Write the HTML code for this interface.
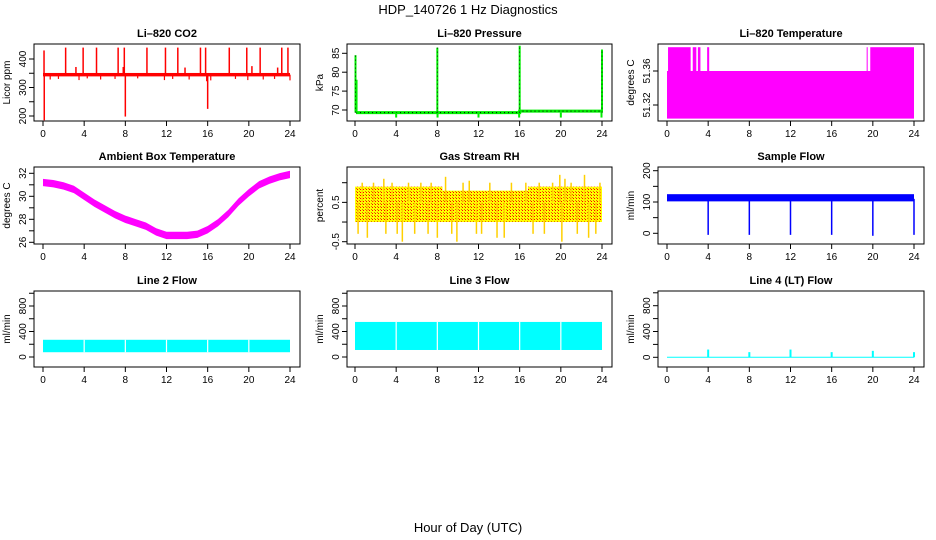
<!DOCTYPE html>
<html><head><meta charset="utf-8"><style>
html,body{margin:0;padding:0;background:#fff;}
svg{display:block;font-family:"Liberation Sans",Arial,sans-serif;}
</style></head><body>
<svg id="c" width="936" height="540" viewBox="0 0 936 540" xmlns="http://www.w3.org/2000/svg">
<defs>
<pattern id="rhpat" width="3" height="3" patternUnits="userSpaceOnUse">
<rect width="3" height="3" fill="#ffff00"/><rect x="0" y="0" width="1" height="1" fill="#ff0000"/><rect x="2" y="2" width="1" height="1" fill="#e07000"/>
</pattern>
</defs>
<text x="468" y="14" text-anchor="middle" font-size="13">HDP_140726  1 Hz Diagnostics</text>
<text x="468" y="532" text-anchor="middle" font-size="13">Hour of Day (UTC)</text>
</svg>
<script>
// ---- data ----
const xTicks=[0,4,8,12,16,20,24];
const co2Base=[339,351];
const co2SpikeHours=[0.1,0.12,2.2,3.2,3.9,5.2,7.3,7.8,7.9,8.0,10.1,11.9,13.1,13.8,15.3,15.8,16.0,18.1,19.8,20.3,21.1,22.8,23.2,23.8];
const co2SpikeVals=[430,185,440,372,440,440,440,372,440,198,440,440,440,370,440,440,225,440,440,375,440,370,440,440];
const co2DipHours=[0.7,1.5,3.5,4.3,5.6,7.0,9.2,11.8,12.6,14.2,15.9,16.3,18.7,19.9,21.4,22.5,24.0];
const co2DipVals=[328,330,326,332,328,330,332,326,330,328,322,325,330,326,328,330,325];
const presBaseHours=[0.1,16,16,24];
const presBaseVals=[69.3,69.3,69.7,69.7];
const presSpikeHours=[0.05,0.15,8.0,16.0,24.0,4,12,20,8.02,15.95,23.95];
const presSpikeVals=[84.5,78,86.5,87,86,68,68,68,68,68,68];
const tempLow=[51.304,51.36];
const tempHighStarts=[0.1,2.5,3.0,3.9,19.4,19.75];
const tempHighEnds=[2.3,2.85,3.25,4.1,19.5,24];
const tempHigh=51.388;
const ambHours=[0,1,2,3,4,5,6,7,8,9,10,11,12,13,14,15,16,17,18,19,20,21,22,23,24];
const ambVals=[31.2,31.1,30.9,30.6,30.0,29.4,28.9,28.4,28.0,27.7,27.4,26.9,26.6,26.6,26.6,26.7,27.1,27.7,28.5,29.5,30.3,31.0,31.4,31.7,31.9];
const ambHalf=0.32;
const rhTopHours=[0,8.5,8.5,16.8,16.8,24];
const rhTopVals=[0.9,0.9,0.8,0.8,0.9,0.9];
const rhLow=0.0;
const rhSpikeHours=[0.3,0.7,1.2,1.8,2.8,3.0,3.6,4.1,4.6,5.2,5.8,6.4,7.1,7.4,8.0,8.8,9.4,9.9,10.5,11.1,11.8,12.3,13.1,13.8,14.5,15.2,16.6,17.3,17.9,18.4,19.2,19.9,20.1,20.4,21.0,21.6,22.3,22.7,23.4,23.8];
const rhSpikeVals=[-0.3,1.0,-0.4,1.0,1.1,-0.3,1.0,-0.3,-0.5,1.0,-0.3,1.0,-0.3,1.0,-0.4,1.15,-0.3,-0.5,1.0,1.05,-0.3,-0.3,1.0,-0.4,-0.4,1.0,1.0,-0.3,1.0,-0.3,1.0,1.2,-0.5,1.1,1.0,-0.3,1.2,-0.4,-0.3,1.0];
const sampBand=[102,125];
const sampDipHours=[4,8,12,16,20,24];
const sampDipVals=[-5,-5,-5,-5,-8,-5];
const l2Band=[75,270];
const l3Band=[110,550];
const gapHours=[4,8,12,16,20];
const l4SpikeHours=[4,8,12,16,20,24];
const l4SpikeVals=[120,80,120,80,100,80];

// ---- drawing ----
const svg=document.getElementById('c');
const NS='http://www.w3.org/2000/svg';
function mk(tag,attrs,parent){const e=document.createElementNS(NS,tag);for(const k in attrs)e.setAttribute(k,attrs[k]);(parent||svg).appendChild(e);return e;}
const cols=[{bx:34,bw:266,x0:43,x1:290},{bx:347,bw:265,x0:355,x1:602},{bx:658,bw:266,x0:667,x1:914}];
const rows=[{by:44,bh:77},{by:167,bh:77},{by:291,bh:76}];
function lin(v0,p0,v1,p1){return v=>p0+(v-v0)*(p1-p0)/(v1-v0);}
function panel(name,c,r,title,ylab,yv0,yp0,yv1,yp1,ticks,labels){
  const C=cols[c],R=rows[r];
  const g=mk('g',{});
  
  
  const X=lin(0,C.x0,24,C.x1), Y=lin(yv0,yp0,yv1,yp1);
  const t=mk('text',{x:C.bx+C.bw/2,y:R.by-7,'text-anchor':'middle','font-size':11,'font-weight':'bold'},g);t.textContent=title;
  
  
  const yl=mk('text',{x:0,y:0,'text-anchor':'middle','font-size':10,transform:`translate(${C.bx-24},${R.by+R.bh/2}) rotate(-90)`},g);yl.textContent=ylab;
  
  
  const plot=mk('g',{},g);
  const yb=R.by+R.bh;
  mk('line',{x1:X(0),x2:X(24),y1:yb,y2:yb,stroke:'#000'},g);
  xTicks.forEach(h=>{mk('line',{x1:X(h),x2:X(h),y1:yb,y2:yb+5,stroke:'#000'},g);
    const tl=mk('text',{x:X(h),y:yb+16,'text-anchor':'middle','font-size':10},g);tl.textContent=h;
    
    });
  mk('line',{x1:C.bx,x2:C.bx,y1:Y(ticks[0]),y2:Y(ticks[ticks.length-1]),stroke:'#000'},g);
  ticks.forEach(v=>{mk('line',{x1:C.bx-5,x2:C.bx,y1:Y(v),y2:Y(v),stroke:'#000'},g);});
  labels.forEach(v=>{const tl=mk('text',{x:0,y:0,'text-anchor':'middle','font-size':10,transform:`translate(${C.bx-8},${Y(v)}) rotate(-90)`},g);tl.textContent=String(v);
    
    });
  mk('rect',{x:C.bx,y:R.by,width:C.bw,height:R.bh,fill:'none',stroke:'#000'},g);
  return {g:plot,X,Y};
}
function vline(p,h,a,b,col,w,dash){const e=mk('line',{x1:p.X(h),x2:p.X(h),y1:p.Y(a),y2:p.Y(b),stroke:col,'stroke-width':w},p.g);if(dash)e.setAttribute('stroke-dasharray',dash);return e;}
function band(p,h0,h1,a,b,fill){return mk('rect',{x:p.X(h0),y:p.Y(b),width:p.X(h1)-p.X(h0),height:p.Y(a)-p.Y(b),fill:fill},p.g);}

// CO2
let p=panel('co2',0,0,'Li\u2013820 CO2','Licor ppm',400,59,200,116,[200,250,300,350,400],[200,300,400]);
band(p,0,24,co2Base[0],co2Base[1],'#ff0000');
co2SpikeHours.forEach((h,i)=>vline(p,h,345,co2SpikeVals[i],'#ff0000',1.5));
co2DipHours.forEach((h,i)=>vline(p,h,345,co2DipVals[i],'#ff0000',1.2));
// Pressure
p=panel('pressure',1,0,'Li\u2013820 Pressure','kPa',85,53.3,70,110,[70,75,80,85],[70,75,80,85]);
mk('polyline',{points:presBaseHours.map((h,i)=>p.X(h)+','+p.Y(presBaseVals[i])).join(' '),fill:'none',stroke:'#00ee00','stroke-width':3},p.g);
mk('polyline',{points:presBaseHours.map((h,i)=>p.X(h)+','+p.Y(presBaseVals[i])).join(' '),fill:'none',stroke:'#000','stroke-width':1,'stroke-dasharray':'1,3'},p.g);
presSpikeHours.forEach((h,i)=>{vline(p,h,presBaseVals[0],presSpikeVals[i],'#00ee00',2);});
[0.05,8.0,16.0,24.0].forEach(h=>vline(p,h,69.3,presSpikeVals[presSpikeHours.indexOf(h)],'#000',0.8,'1,3'));
// Li temp
p=panel('li-temp',2,0,'Li\u2013820 Temperature','degrees C',51.36,71,51.32,105,[51.32,51.36],[51.32,51.36]);
band(p,0,24,tempLow[0],tempLow[1],'#ff00ff');
tempHighStarts.forEach((s,i)=>band(p,s,tempHighEnds[i],tempLow[1]-0.001,tempHigh,'#ff00ff'));
// Ambient
p=panel('ambient',0,1,'Ambient Box Temperature','degrees C',32,173.3,26,242.3,[26,27,28,29,30,31,32],[26,28,30,32]);
{const up=ambHours.map((h,i)=>p.X(h)+','+p.Y(ambVals[i]+ambHalf)),dn=ambHours.map((h,i)=>p.X(h)+','+p.Y(ambVals[i]-ambHalf)).reverse();
mk('polygon',{points:up.concat(dn).join(' '),fill:'#ff00ff'},p.g);}
// RH
p=panel('gas-rh',1,1,'Gas Stream RH','percent',1.0,182.7,-0.5,241.7,[-0.5,0,0.5,1.0],[-0.5,0.5]);
{const up=rhTopHours.map((h,i)=>p.X(h)+','+p.Y(rhTopVals[i]));
mk('polygon',{points:up.concat([p.X(24)+','+p.Y(rhLow),p.X(0)+','+p.Y(rhLow)]).join(' '),fill:'url(#rhpat)'},p.g);}
rhSpikeHours.forEach((h,i)=>vline(p,h,0.5,rhSpikeVals[i],'#ffd000',1.5));
// Sample flow
p=panel('sample-flow',2,1,'Sample Flow','ml/min',200,170.7,0,233.3,[0,50,100,150,200],[0,100,200]);
band(p,0,24,sampBand[0],sampBand[1],'#0000ff');
sampDipHours.forEach((h,i)=>vline(p,h,110,sampDipVals[i],'#0000ff',1.5));
// Line 2
p=panel('line2-flow',0,2,'Line 2 Flow','ml/min',800,306,0,357,[0,200,400,600,800,1000],[0,400,800]);
band(p,0,24,l2Band[0],l2Band[1],'#00ffff');
gapHours.forEach(h=>vline(p,h,l2Band[0],l2Band[1],'#ffffff',1.2));
// Line 3
p=panel('line3-flow',1,2,'Line 3 Flow','ml/min',800,306,0,357,[0,200,400,600,800,1000],[0,400,800]);
band(p,0,24,l3Band[0],l3Band[1],'#00ffff');
gapHours.forEach(h=>vline(p,h,l3Band[0],l3Band[1],'#ffffff',1.2));
// Line 4
p=panel('line4-flow',2,2,'Line 4 (LT) Flow','ml/min',800,305.7,0,357.3,[0,200,400,600,800,1000],[0,400,800]);
mk('line',{x1:p.X(0),x2:p.X(24),y1:p.Y(0),y2:p.Y(0),stroke:'#00ffff','stroke-width':1},p.g);
l4SpikeHours.forEach((h,i)=>vline(p,h,0,l4SpikeVals[i],'#00ffff',2));
</script>
</body></html>
